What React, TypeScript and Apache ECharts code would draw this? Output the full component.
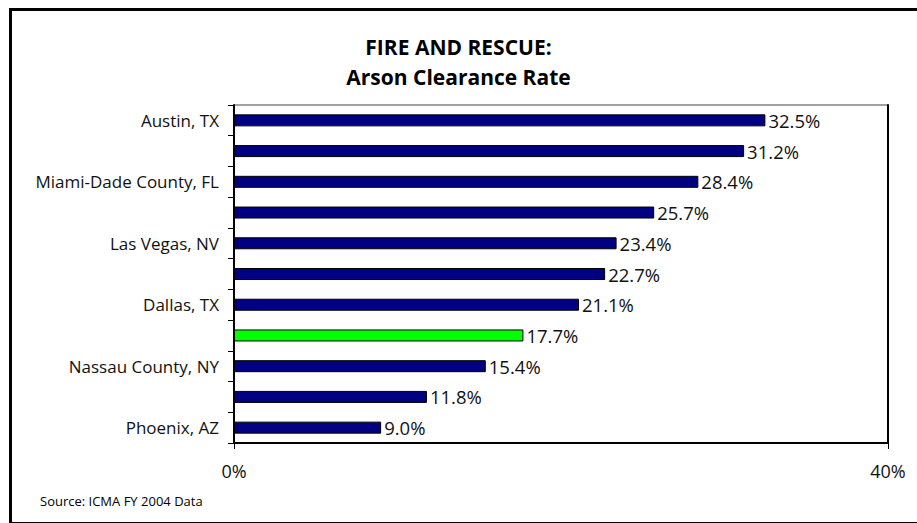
import React, { useEffect, useRef } from "react";
import * as echarts from "echarts";

const categories = [
  "Austin, TX",
  "",
  "Miami-Dade County, FL",
  "",
  "Las Vegas, NV",
  "",
  "Dallas, TX",
  "",
  "Nassau County, NY",
  "",
  "Phoenix, AZ",
];
const values = [32.5, 31.2, 28.4, 25.7, 23.4, 22.7, 21.1, 17.7, 15.4, 11.8, 9.0];
const highlightIndex = 7;
const titleLines = ["FIRE AND RESCUE:", "Arson Clearance Rate"];
const sourceText = "Source: ICMA FY 2004 Data";

const FONT = "'Open Sans', sans-serif";

export default function App() {
  const ref = useRef<HTMLDivElement>(null);
  useEffect(() => {
    if (!ref.current) return;
    const chart = echarts.init(ref.current, undefined, { renderer: "svg" });
    chart.setOption({
      animation: false,
      backgroundColor: "#fff",
      textStyle: { fontFamily: FONT },
      title: {
        text: titleLines.join("\n"),
        left: "center",
        top: 27,
        textStyle: { fontFamily: FONT, fontSize: 21, fontWeight: "bold", color: "#000", lineHeight: 30 },
      },
      graphic: [
        {
          type: "rect",
          left: 8,
          top: 7,
          shape: { x: 0, y: 0, width: 940, height: 514 },
          style: { fill: "none", stroke: "#000", lineWidth: 3 },
          silent: true,
        },
        {
          type: "text",
          left: 40,
          top: 494,
          style: { text: sourceText, font: `13px ${FONT}`, fill: "#000" },
        },
      ],
      grid: { left: 234, right: 29, top: 105, bottom: 80, show: true, borderColor: "#444", borderWidth: 1 },
      xAxis: {
        type: "value",
        min: 0,
        max: 40,
        interval: 40,
        splitLine: { show: false },
        axisLine: { show: true, lineStyle: { color: "#000", width: 2 } },
        axisTick: { show: true, length: 6, lineStyle: { color: "#000" } },
        axisLabel: { formatter: "{value}%", fontSize: 18, color: "#111", margin: 19, fontFamily: FONT },
      },
      yAxis: [
        {
          type: "category",
          inverse: true,
          data: categories,
          axisLine: { show: true, lineStyle: { color: "#000", width: 2 } },
          axisTick: { show: true, interval: 0, length: 6, lineStyle: { color: "#000" } },
          axisLabel: { interval: 0, fontSize: 17, color: "#111", margin: 15, fontFamily: FONT },
        },
        {
          type: "category",
          inverse: true,
          position: "right",
          data: categories,
          axisLine: { show: true, lineStyle: { color: "#000", width: 2 } },
          axisTick: { show: false },
          axisLabel: { show: false },
        },
      ],
      series: [
        {
          type: "bar",
          yAxisIndex: 0,
          barWidth: 12,
          data: values.map((v, i) => ({
            value: v,
            itemStyle: {
              color: i === highlightIndex ? "#00ff00" : "#000080",
              borderColor: "#000",
              borderWidth: 1,
            },
          })),
          label: {
            show: true,
            position: "right",
            distance: 3,
            formatter: (p: any) => p.value.toFixed(1) + "%",
            fontSize: 18.5,
            color: "#111",
            fontFamily: FONT,
          },
        },
      ],
    });
    return () => chart.dispose();
  }, []);
  return <div ref={ref} style={{ position: "fixed", left: 0, top: 0, width: 917, height: 523 }} />;
}
